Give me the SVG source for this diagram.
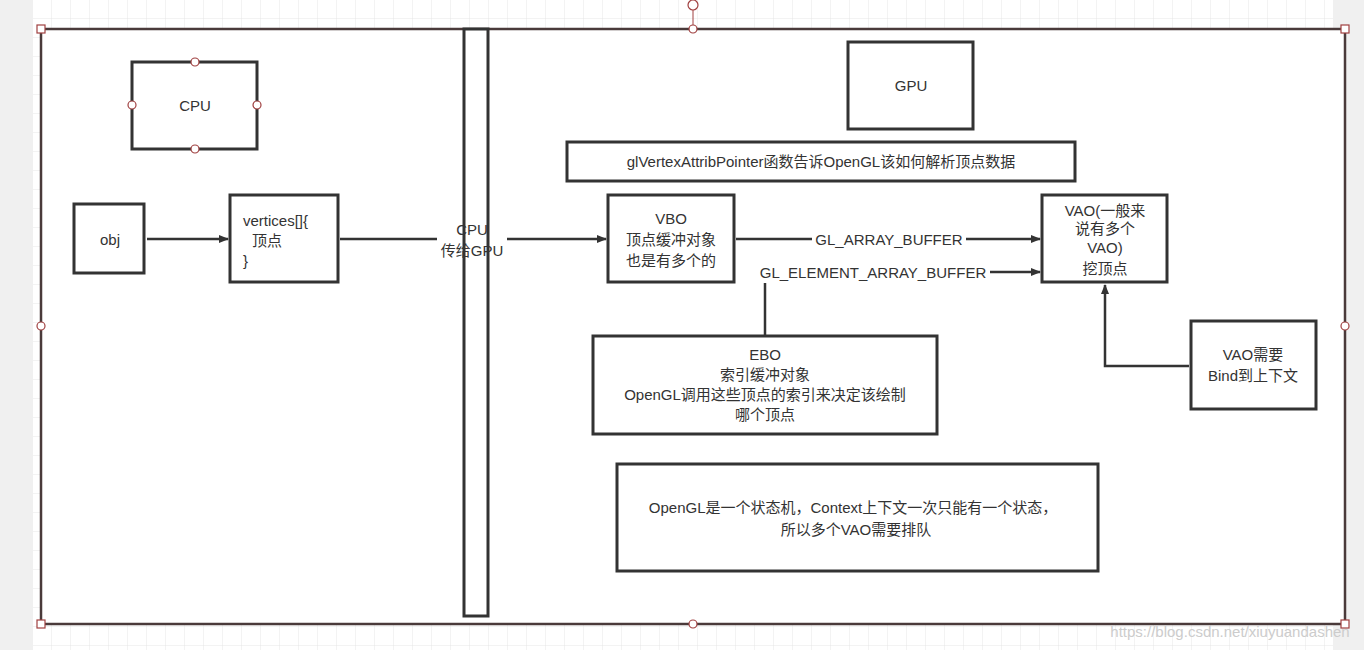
<svg xmlns="http://www.w3.org/2000/svg" width="1364" height="650" viewBox="0 0 1364 650">
<defs>
<pattern id="grid" width="19" height="19" patternUnits="userSpaceOnUse" x="33" y="0">
<path d="M19 0V19H0" fill="none" stroke="#e6e6e6" stroke-width="1"/>
</pattern>
<marker id="ah" markerWidth="10" markerHeight="8" refX="9" refY="4" orient="auto" markerUnits="userSpaceOnUse">
<path d="M0 0L10 4L0 8z" fill="#333"/>
</marker>
<style>
.n{fill:#fff;stroke:#333;stroke-width:3}
.t{font-family:"Liberation Sans","Noto Sans CJK SC",sans-serif;font-size:15px;fill:#333;text-anchor:middle}
.c{fill:none;stroke:#333;stroke-width:2.5}
.h{fill:#fff;stroke:#a04040;stroke-width:1.2}
</style>
</defs>
<rect width="1364" height="650" fill="#f0f0f0"/>
<rect x="33" y="0" width="1300" height="650" fill="#fff"/>
<rect x="33" y="0" width="1300" height="650" fill="url(#grid)"/>
<g id="frame">
<rect x="41" y="29" width="1304" height="595" fill="#fff" stroke="#4a3a3a" stroke-width="2.5"/>
</g>
<g id="cpu"><rect class="n" x="132" y="62" width="125" height="87"/><text class="t" x="195" y="111">CPU</text></g>
<g id="bus"><rect class="n" x="464" y="29" width="24" height="587"/></g>
<g id="obj"><rect class="n" x="74" y="204" width="70" height="69"/><text class="t" x="110" y="245">obj</text></g>
<g id="vertices"><rect class="n" x="230" y="195" width="108" height="87"/>
<text class="t" x="243" y="226" text-anchor="start" style="text-anchor:start">vertices[]{</text>
<text class="t" x="252" y="246" style="text-anchor:start">顶点</text>
<text class="t" x="243" y="266" style="text-anchor:start">}</text></g>
<g id="gpu"><rect class="n" x="848" y="42" width="125" height="87"/><text class="t" x="911" y="91">GPU</text></g>
<g id="attrib"><rect class="n" x="567" y="142" width="508" height="39"/><text class="t" x="821" y="167">glVertexAttribPointer函数告诉OpenGL该如何解析顶点数据</text></g>
<g id="vbo"><rect class="n" x="608" y="195" width="126" height="87"/>
<text class="t" x="671" y="224">VBO</text><text class="t" x="671" y="245">顶点缓冲对象</text><text class="t" x="671" y="266">也是有多个的</text></g>
<g id="vao"><rect class="n" x="1042" y="195" width="125" height="87"/>
<text class="t" x="1105" y="216">VAO(一般来</text><text class="t" x="1105" y="234">说有多个</text><text class="t" x="1105" y="253">VAO)</text><text class="t" x="1105" y="274">挖顶点</text></g>
<g id="ebo"><rect class="n" x="593" y="336" width="344" height="98"/>
<text class="t" x="765" y="360">EBO</text><text class="t" x="765" y="380">索引缓冲对象</text><text class="t" x="765" y="400">OpenGL调用这些顶点的索引来决定该绘制</text><text class="t" x="765" y="420">哪个顶点</text></g>
<g id="bind"><rect class="n" x="1191" y="321" width="125" height="88"/>
<text class="t" x="1253" y="360">VAO需要</text><text class="t" x="1253" y="381">Bind到上下文</text></g>
<g id="state"><rect class="n" x="617" y="464" width="481" height="107"/>
<text class="t" x="853" y="513">OpenGL是一个状态机，Context上下文一次只能有一个状态，</text><text class="t" x="856" y="535">所以多个VAO需要排队</text></g>
<g id="connectors">
<path class="c" d="M147 239H228" marker-end="url(#ah)"/>
<path class="c" d="M340 239H437"/>
<path class="c" d="M507 239H606" marker-end="url(#ah)"/>
<path class="c" d="M736 239H812"/>
<path class="c" d="M966 239H1040" marker-end="url(#ah)"/>
<path class="c" d="M765 335V283"/>
<path class="c" d="M990 272H1040" marker-end="url(#ah)"/>
<path class="c" d="M1189 366H1105V285" marker-end="url(#ah)"/>
<text class="t" x="472" y="235">CPU</text><text class="t" x="472" y="256">传给GPU</text>
<text class="t" x="889" y="245">GL_ARRAY_BUFFER</text>
<text class="t" x="873" y="278">GL_ELEMENT_ARRAY_BUFFER</text>
</g>
<g id="handles">
<rect class="h" x="37" y="25" width="8" height="8"/><rect class="h" x="1341" y="25" width="8" height="8"/>
<rect class="h" x="37" y="620" width="8" height="8"/><rect class="h" x="1341" y="620" width="8" height="8"/>
<circle class="h" cx="693" cy="29" r="4"/><circle class="h" cx="693" cy="5" r="5"/><path d="M693 10V25" stroke="#a04040"/>
<circle class="h" cx="693" cy="624" r="4"/><circle class="h" cx="41" cy="326" r="4"/><circle class="h" cx="1345" cy="326" r="4"/>
<circle class="h" cx="195" cy="62" r="4"/><circle class="h" cx="195" cy="149" r="4"/><circle class="h" cx="132" cy="105" r="4"/><circle class="h" cx="257" cy="105" r="4"/>
</g>
<text x="1230" y="637" style="font-family:'Liberation Sans',sans-serif;font-size:15px;fill:#ccc;text-anchor:middle">https://blog.csdn.net/xiuyuandashen</text>
</svg>
